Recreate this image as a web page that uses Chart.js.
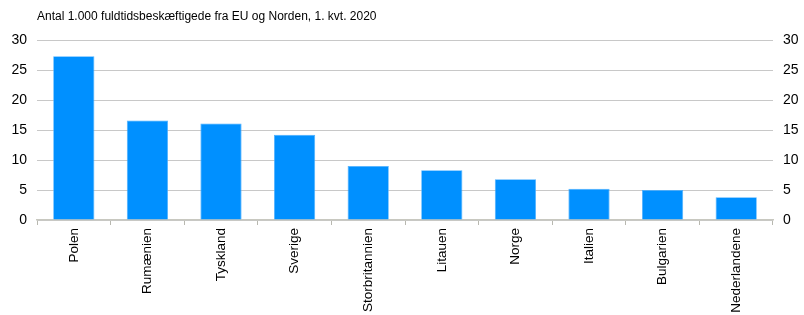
<!DOCTYPE html>
<html>
<head>
<meta charset="utf-8">
<script src="https://cdn.jsdelivr.net/npm/chart.js@4.4.1/dist/chart.umd.min.js"></script>
<style>
  html, body { margin: 0; padding: 0; background: #fff; }
  #wrap { width: 804px; height: 315px; position: relative; }
</style>
</head>
<body>
<div id="wrap"><canvas id="chart"></canvas></div>
<script>
// data
const titleText = "Antal 1.000 fuldtidsbeskæftigede fra EU og Norden, 1. kvt. 2020";
const countries = ["Polen", "Rumænien", "Tyskland", "Sverige", "Storbritannien",
                   "Litauen", "Norge", "Italien", "Bulgarien", "Nederlandene"];
const workers = [27.3, 16.6, 16.1, 14.2, 9.0, 8.3, 6.8, 5.2, 5.0, 3.8];
const yMin = 0, yMax = 30, yStep = 5;

const font = "'Liberation Sans', Arial, sans-serif";

// titel tegnes ved chartArea.left ligesom i originalen
const titlePlugin = {
    id: "leftTitle",
    afterDraw(c) {
        const ctx = c.ctx;
        ctx.save();
        ctx.font = "12px " + font;
        ctx.fillStyle = "#000";
        ctx.textBaseline = "middle";
        ctx.textAlign = "left";
        ctx.fillText(titleText, c.chartArea.left, 17);
        ctx.restore();
    }
};

const yTicks = {
    color: "#000",
    font: { family: font, size: 14 },
    stepSize: yStep,
    padding: 10
};

let chart = new Chart(document.getElementById("chart").getContext("2d"), {
    type: "bar",
    data: {
        labels: countries,
        datasets: [{
            data: workers,
            backgroundColor: "#0090ff",
            borderColor: "#4db0ff",
            borderWidth: 0.8,
            barPercentage: 0.56,
            categoryPercentage: 1
        }]
    },
    plugins: [titlePlugin],
    options: {
        responsive: true,
        maintainAspectRatio: false,
        animation: false,
        layout: { padding: { top: 40, left: 0, right: 0, bottom: 0 } },
        plugins: { legend: { display: false }, tooltip: { enabled: false } },
        scales: {
            x: {
                offset: true,
                afterFit: s => { s.height = 95; },
                grid: {
                    display: true,
                    drawOnChartArea: false,
                    tickLength: 5,
                    color: "#b8b8b0"
                },
                border: { display: true, color: "#c8c8c0", width: 1.5 },
                ticks: {
                    color: "#000",
                    font: { family: font, size: 13.5 },
                    minRotation: 90,
                    maxRotation: 90,
                    padding: 3,
                    autoSkip: false
                }
            },
            y: {
                position: "left",
                min: yMin,
                max: yMax,
                afterFit: s => { s.width = 37; },
                grid: { color: "#c8c8c8", lineWidth: 1, drawTicks: false },
                border: { display: false },
                ticks: yTicks
            },
            y2: {
                position: "right",
                min: yMin,
                max: yMax,
                afterFit: s => { s.width = 31; },
                grid: { display: false, drawTicks: false },
                border: { display: false },
                ticks: yTicks
            }
        }
    }
});
</script>
</body>
</html>
